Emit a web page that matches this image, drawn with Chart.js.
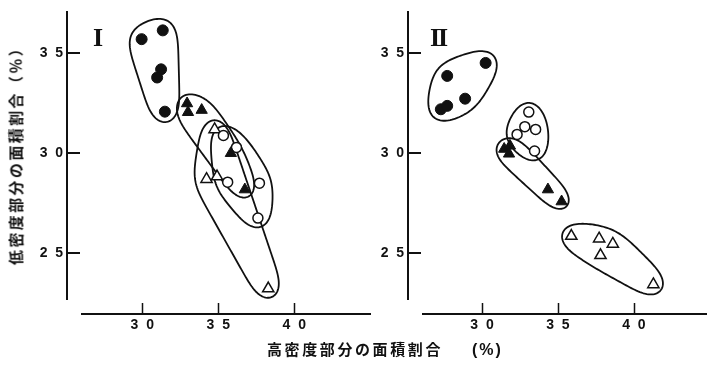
<!DOCTYPE html>
<html>
<head>
<meta charset="utf-8">
<title>面積割合</title>
<script src="https://cdn.jsdelivr.net/npm/chart.js@4.4.1/dist/chart.umd.min.js"></script>
<style>
  html, body { margin: 0; padding: 0; background: #fff; }
  #wrap { position: relative; width: 715px; height: 366px; overflow: hidden; }
  .panel { position: absolute; top: 0; }
  .panel canvas { display: block; }
  #p1 { left: 0; }
  #p2 { left: 360px; }
  .title {
    position: absolute;
    font-family: "Noto Sans CJK JP";
    font-weight: 700;
    font-size: 15px;
    line-height: 15px;
    color: #111;
    white-space: nowrap;
  }
  #xTitle { left: 267px; top: 341px; }
  #xTitle .jp { letter-spacing: 2.6px; }
  #xTitle .unit { margin-left: 29px; letter-spacing: 2px; font-family: "Liberation Sans"; font-size: 16px; }
  #yTitle {
    left: 15px; top: 152px;
    transform: translate(-50%, -50%) rotate(-90deg);
    letter-spacing: 2.4px;
  }
</style>
</head>
<body>
<div id="wrap">
  <div class="panel" id="p1"><canvas id="c1" width="379" height="366"></canvas></div>
  <div class="panel" id="p2"><canvas id="c2" width="355" height="366"></canvas></div>
  <div class="title" id="yTitle">低密度部分の面積割合（％）</div>
  <div class="title" id="xTitle"><span class="jp">高密度部分の面積割合</span><span class="unit">(%)</span></div>
</div>

<script>
// [高密度部分 %, 低密度部分 %] -- パネル I
const p1FilledCircles = [[29.96, 35.71], [31.35, 36.15], [31.24, 34.2], [30.98, 33.79], [31.49, 32.08]];
const p1FilledTriangles = [[32.95, 32.49], [33.01, 32.05], [33.91, 32.16], [35.83, 30.0], [36.75, 28.18]];
const p1OpenCircles = [[35.34, 30.89], [36.2, 30.29], [35.62, 28.55], [37.71, 28.5], [37.61, 26.75]];
const p1OpenTriangles = [[34.23, 28.7], [34.92, 28.83], [34.76, 31.19], [38.29, 23.22]];

// パネル II
const p2FilledCircles = [[27.71, 33.87], [30.24, 34.52], [28.89, 32.73], [27.29, 32.2], [27.71, 32.37]];
const p2OpenCircles = [[33.08, 32.06], [32.82, 31.33], [33.53, 31.19], [32.31, 30.94], [33.46, 30.11]];
const p2FilledTriangles = [[31.46, 30.21], [31.84, 30.37], [31.78, 29.97], [34.34, 28.18], [35.24, 27.58]];
const p2OpenTriangles = [[35.88, 25.85], [37.71, 25.72], [38.61, 25.46], [37.8, 24.89], [41.28, 23.43]];

const xTickValues = [30, 35, 40];
const yTickValues = [25, 30, 35];
const panelLabels = ['I', 'II'];

const INK = '#111';

// "35" -> "3 5" (digits spaced like the printed axis)
function spaced(v) {
  return String(v).split('').join('\u2007');
}

function markerSet(points, style, filled, pad) {
  return {
    data: points.map(([x, y]) => ({ x, y })),
    pointStyle: style,
    pointRadius: style === 'triangle' ? 6.5 : (filled ? 5.5 : 5),
    pointBackgroundColor: filled ? INK : '#fff',
    pointBorderColor: INK,
    pointBorderWidth: filled ? 1 : 1.5,
    hullPad: pad,
  };
}

// convex hull (monotone chain) of pixel points, clockwise on screen
function convexHull(pts) {
  const p = pts.slice().sort((a, b) => a.x - b.x || a.y - b.y);
  const cross = (o, a, b) => (a.x - o.x) * (b.y - o.y) - (a.y - o.y) * (b.x - o.x);
  const lower = [], upper = [];
  for (const q of p) {
    while (lower.length >= 2 && cross(lower[lower.length - 2], lower[lower.length - 1], q) <= 0) lower.pop();
    lower.push(q);
  }
  for (const q of p.slice().reverse()) {
    while (upper.length >= 2 && cross(upper[upper.length - 2], upper[upper.length - 1], q) <= 0) upper.pop();
    upper.push(q);
  }
  upper.pop();
  lower.pop();
  const hull = lower.concat(upper);
  let area = 0;
  for (let i = 0; i < hull.length; i++) {
    const a = hull[i], b = hull[(i + 1) % hull.length];
    area += a.x * b.y - b.x * a.y;
  }
  if (area < 0) hull.reverse();
  return hull;
}

// sample the hull grown by pad px (round corners), ~2px apart
function grownOutline(hull, pad) {
  const n = hull.length;
  const normal = (a, b) => Math.atan2(-(b.x - a.x), b.y - a.y);
  const out = [];
  for (let i = 0; i < n; i++) {
    const prev = hull[(i - 1 + n) % n], cur = hull[i], next = hull[(i + 1) % n];
    const a0 = normal(prev, cur);
    let a1 = normal(cur, next);
    if (a1 < a0) a1 += 2 * Math.PI;
    const steps = Math.max(1, Math.ceil((a1 - a0) * pad / 2));
    for (let s = 0; s <= steps; s++) {
      const a = a0 + (a1 - a0) * s / steps;
      out.push({ x: cur.x + pad * Math.cos(a), y: cur.y + pad * Math.sin(a) });
    }
    const from = out[out.length - 1];
    const to = { x: next.x + pad * Math.cos(a1), y: next.y + pad * Math.sin(a1) };
    const len = Math.hypot(to.x - from.x, to.y - from.y);
    const k = Math.ceil(len / 2);
    for (let s = 1; s < k; s++) {
      out.push({ x: from.x + (to.x - from.x) * s / k, y: from.y + (to.y - from.y) * s / k });
    }
  }
  return out;
}

// moving average round the closed outline, softens it into a hand drawn loop
function smoothLoop(pts, half, passes) {
  let cur = pts;
  const n = pts.length;
  for (let p = 0; p < passes; p++) {
    const next = [];
    for (let i = 0; i < n; i++) {
      let sx = 0, sy = 0;
      for (let j = -half; j <= half; j++) {
        const q = cur[(i + j + n) % n];
        sx += q.x; sy += q.y;
      }
      next.push({ x: sx / (2 * half + 1), y: sy / (2 * half + 1) });
    }
    cur = next;
  }
  return cur;
}

const groupOutline = {
  id: 'groupOutline',
  beforeDatasetsDraw(chart) {
    const ctx = chart.ctx;
    ctx.save();
    ctx.strokeStyle = INK;
    ctx.lineWidth = 1.8;
    ctx.lineJoin = 'round';
    chart.data.datasets.forEach((ds, i) => {
      const pts = chart.getDatasetMeta(i).data.map(el => ({ x: el.x, y: el.y }));
      const loop = smoothLoop(grownOutline(convexHull(pts), ds.hullPad), 6, 3);
      ctx.beginPath();
      loop.forEach((q, j) => (j ? ctx.lineTo(q.x, q.y) : ctx.moveTo(q.x, q.y)));
      ctx.closePath();
      ctx.stroke();
    });
    ctx.restore();
  },
  afterDraw(chart, args, opts) {
    const ctx = chart.ctx;
    const area = chart.chartArea;
    const xs = chart.scales.x, ys = chart.scales.y;
    const baseY = area.bottom + 15;
    ctx.save();
    ctx.strokeStyle = INK;
    // x axis sits a little below the plot
    ctx.lineWidth = 2;
    ctx.beginPath();
    ctx.moveTo(area.left + 14, baseY);
    ctx.lineTo(area.right, baseY);
    ctx.stroke();
    ctx.lineWidth = 1.5;
    ctx.beginPath();
    xTickValues.forEach(v => {
      const px = Math.round(xs.getPixelForValue(v)) + 0.5;
      ctx.moveTo(px, baseY - 11);
      ctx.lineTo(px, baseY);
    });
    ctx.stroke();
    ctx.lineWidth = 2;
    ctx.beginPath();
    yTickValues.forEach(v => {
      const py = Math.round(ys.getPixelForValue(v));
      ctx.moveTo(area.left, py);
      ctx.lineTo(area.left + 13, py);
    });
    ctx.stroke();
    // panel numeral
    ctx.fillStyle = INK;
    ctx.font = 'bold 26px "Liberation Serif"';
    ctx.letterSpacing = '-2px';
    ctx.textAlign = 'center';
    ctx.textBaseline = 'middle';
    ctx.fillText(opts.label, area.left + 30, area.top + 27);
    ctx.restore();
  }
};

function makePanel(canvasId, datasets, xMin, xMax, yAxisWidth, label) {
  return new Chart(document.getElementById(canvasId), {
    type: 'scatter',
    data: { datasets },
    options: {
      responsive: false,
      animation: false,
      devicePixelRatio: 1,
      layout: { padding: { top: 5, right: 0, bottom: 0, left: 0 } },
      plugins: {
        legend: { display: false },
        tooltip: { enabled: false },
        groupOutline: { label },
      },
      scales: {
        x: {
          type: 'linear',
          min: xMin,
          max: xMax,
          afterFit: s => { s.height = 67; },
          afterBuildTicks: s => { s.ticks = xTickValues.map(v => ({ value: v })); },
          grid: { display: false, drawTicks: false },
          border: { display: false },
          ticks: {
            autoSkip: false,
            maxRotation: 0,
            padding: 18,
            color: INK,
            font: { family: 'Liberation Sans', size: 14, weight: 'bold' },
            callback: v => spaced(v),
          },
        },
        y: {
          type: 'linear',
          min: 22.7,
          max: 37.05,
          afterFit: s => { s.width = yAxisWidth; },
          afterBuildTicks: s => { s.ticks = yTickValues.map(v => ({ value: v })); },
          grid: { display: false, drawTicks: false },
          border: { display: true, color: INK, width: 2 },
          ticks: {
            autoSkip: false,
            padding: 4,
            color: INK,
            font: { family: 'Liberation Sans', size: 14, weight: 'bold' },
            callback: v => spaced(v),
          },
        },
      },
    },
    plugins: [groupOutline],
  });
}

makePanel('c1', [
  markerSet(p1FilledCircles, 'circle', true, 15),
  markerSet(p1FilledTriangles, 'triangle', true, 13),
  markerSet(p1OpenCircles, 'circle', false, 14),
  markerSet(p1OpenTriangles, 'triangle', false, 14),
], 25.05, 45.05, 67, panelLabels[0]);

makePanel('c2', [
  markerSet(p2FilledCircles, 'circle', true, 15),
  markerSet(p2OpenCircles, 'circle', false, 14),
  markerSet(p2FilledTriangles, 'triangle', true, 12),
  markerSet(p2OpenTriangles, 'triangle', false, 14),
], 25.13, 44.81, 48, panelLabels[1]);
</script>
</body>
</html>
